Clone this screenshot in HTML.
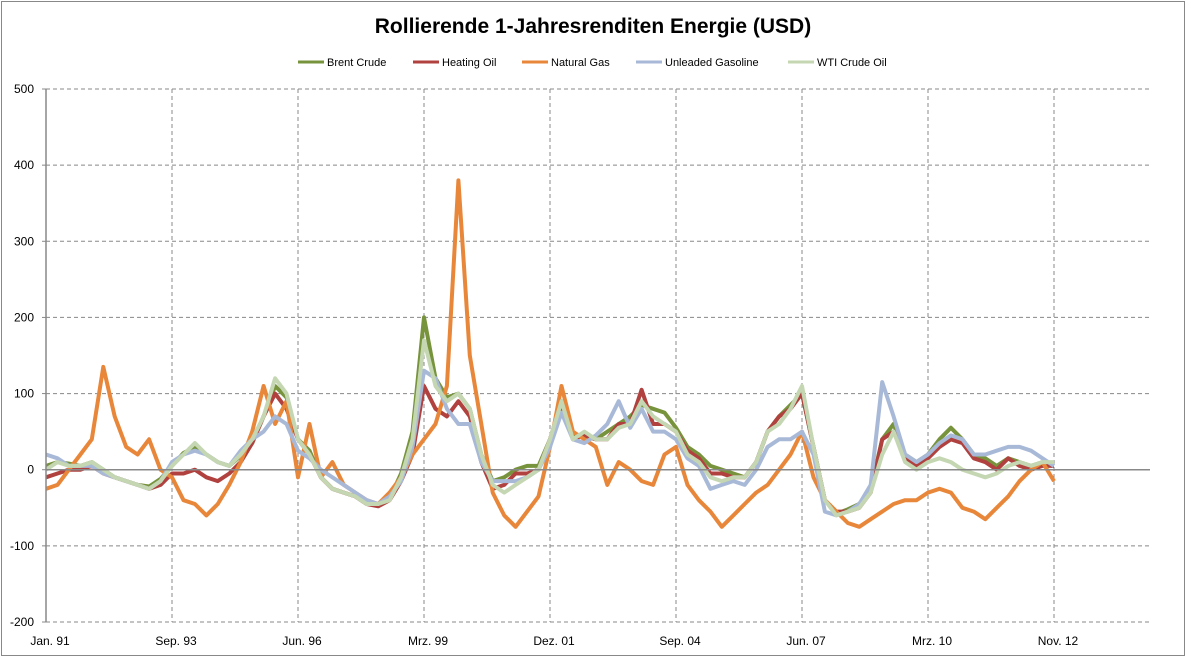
<!DOCTYPE html>
<html><head><meta charset="utf-8">
<style>
body{margin:0;background:#fff;font-family:"Liberation Sans",sans-serif;}
svg{display:block}
</style></head>
<body>
<svg id="chart" width="1187" height="659" viewBox="0 0 1187 659">
<rect x="1.5" y="1.5" width="1183" height="654" fill="#fff" stroke="#888"/>
<text x="593" y="33" text-anchor="middle" font-size="21" font-weight="bold" fill="#000">Rollierende 1-Jahresrenditen Energie (USD)</text>
<g id="legend"></g>
<g id="grid"></g>
<g id="series"></g>
<g id="axes"></g>
</svg>
<script>
const seriesNames=["Brent Crude","Heating Oil","Natural Gas","Unleaded Gasoline","WTI Crude Oil"];
const yTicks=[500,400,300,200,100,0,-100,-200];
const xTickLabels=["Jan. 91","Sep. 93","Jun. 96","Mrz. 99","Dez. 01","Sep. 04","Jun. 07","Mrz. 10","Nov. 12"];
const xTickMonths=[0,33,66,99,132,165,198,231,264];
const sampleStepMonths=3;
const natGas=[-25,-20,0,20,40,135,70,30,20,40,0,-10,-40,-45,-60,-45,-20,10,50,110,60,90,-10,60,-10,10,-20,-30,-40,-45,-30,-10,20,40,60,110,380,150,60,-30,-60,-75,-55,-35,30,110,50,40,30,-20,10,0,-15,-20,20,30,-20,-40,-55,-75,-60,-45,-30,-20,0,20,50,-10,-40,-55,-70,-75,-65,-55,-45,-40,-40,-30,-25,-30,-50,-55,-65,-50,-35,-15,0,10,-15];
const wti=[0,10,5,5,10,0,-10,-15,-20,-25,-15,5,20,35,20,10,5,20,40,70,120,100,40,20,-10,-25,-30,-35,-45,-45,-40,-10,40,170,110,90,100,80,20,-20,-30,-20,-10,0,40,90,40,50,40,40,55,60,90,70,60,50,20,10,-10,-15,-10,-10,10,50,60,80,110,30,-40,-60,-55,-50,-30,20,50,10,0,10,15,10,0,-5,-10,-5,5,10,5,10,10];
const brent=[5,10,8,5,10,0,-10,-15,-20,-22,-12,5,22,30,20,10,5,18,35,70,110,95,40,25,-10,-25,-30,-35,-45,-45,-38,-5,50,200,120,95,100,80,20,-15,-10,0,5,5,40,90,45,45,40,50,60,70,85,80,75,55,30,20,5,0,-5,-10,10,50,70,85,100,30,-40,-58,-52,-45,-25,40,60,20,10,20,40,55,40,20,15,5,15,10,5,10,8];
const heating=[-10,-5,0,0,5,-5,-10,-15,-20,-25,-20,-5,-5,0,-10,-15,-5,10,35,70,100,80,40,20,-10,-25,-30,-35,-45,-48,-40,-15,20,110,80,70,90,70,10,-25,-20,-5,-5,0,40,85,40,45,40,40,60,60,105,60,60,50,25,15,-5,-5,-10,-10,10,50,70,80,100,30,-40,-55,-55,-50,-30,40,50,15,5,15,30,40,35,15,10,0,15,5,0,5,5];
const gasoline=[20,15,5,5,5,-5,-10,-15,-20,-25,-15,10,20,25,20,10,5,25,40,50,70,60,25,15,0,-10,-20,-30,-40,-45,-35,-15,30,130,120,80,60,60,10,-15,-15,-15,-10,0,30,75,40,35,45,60,90,55,80,50,50,40,15,5,-25,-20,-15,-20,0,30,40,40,50,20,-55,-60,-55,-45,-20,115,70,20,10,20,35,45,40,20,20,25,30,30,25,15,5];
const seriesData=[brent,heating,natGas,gasoline,wti];
const colors=["#77933C","#B0413E","#E8873A","#A8B9D8","#C4D7B2"];
const NS="http://www.w3.org/2000/svg";
const L=46,T=89,B=622,R=1150,pxPerMonth=126/33;
function xS(m){return L+m*pxPerMonth;}
function yS(v){return B-(v+200)*(B-T)/700;}
function mk(tag,attrs,parent){const e=document.createElementNS(NS,tag);for(const k in attrs)e.setAttribute(k,attrs[k]);parent.appendChild(e);return e;}
const grid=document.getElementById('grid'),axes=document.getElementById('axes'),ser=document.getElementById('series'),leg=document.getElementById('legend');
yTicks.forEach(v=>{
  if(v!==0){const g=mk('line',{x1:L,x2:R,y1:yS(v),y2:yS(v),stroke:'#888','stroke-dasharray':'4,3','stroke-width':1},grid);
  
  }
  const t=mk('text',{x:34,y:yS(v)+4,'text-anchor':'end','font-size':12,fill:'#000'},axes);t.textContent=v;
  
  
  const tk=mk('line',{x1:L-4,x2:L,y1:yS(v),y2:yS(v),stroke:'#888'},axes);
  
  
});
xTickMonths.forEach((m,i)=>{
  if(i>0){const g=mk('line',{x1:xS(m),x2:xS(m),y1:T,y2:B,stroke:'#888','stroke-dasharray':'4,3'},grid);
  
  }
  const t=mk('text',{x:xS(m)+4,y:645,'text-anchor':'middle','font-size':12,fill:'#000'},axes);t.textContent=xTickLabels[i];
  
  
});
const ya=mk('line',{x1:L,x2:L,y1:T,y2:B,stroke:'#888','stroke-width':1.5},axes);


const za=mk('line',{x1:L,x2:R,y1:yS(0),y2:yS(0),stroke:'#888','stroke-width':1.5},axes);


seriesData.forEach((arr,s)=>{
  const d=arr.map((v,i)=>(i?'L':'M')+xS(i*sampleStepMonths).toFixed(1)+','+yS(v).toFixed(1)).join(' ');
  const p=mk('path',{d:d,fill:'none',stroke:colors[s],'stroke-width':4,'stroke-linejoin':'round'},ser);
  
  
});
const legX=[298,413,522,636,788];
seriesNames.forEach((n,i)=>{
  const l=mk('line',{x1:legX[i],x2:legX[i]+26,y1:62,y2:62,stroke:colors[i],'stroke-width':3},leg);
  
  
  const t=mk('text',{x:legX[i]+29,y:66,'font-size':11,fill:'#000'},leg);t.textContent=n;
  
  
});
</script>
</body></html>
